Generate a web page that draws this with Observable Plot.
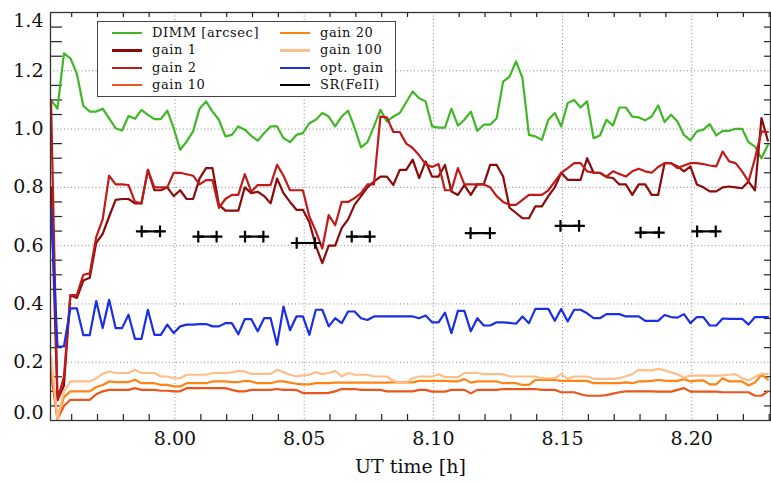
<!DOCTYPE html>
<html><head><meta charset="utf-8">
<script src="https://cdn.jsdelivr.net/npm/d3@7"></script>
<script src="https://cdn.jsdelivr.net/npm/@observablehq/plot@0.6"></script>
<style>
body{margin:0;background:#fff}
#wrap{position:relative;width:771px;height:483px}
#wrap svg{font-family:"DejaVu Serif",serif}
g[aria-label="tick-labels"] text{letter-spacing:1px}
g[aria-label="axis-title"] text{letter-spacing:2px}
#legend{position:absolute;left:97px;top:21px;width:299px;height:76px;box-sizing:border-box;border:1.2px solid #444;background:#fff;font-family:"DejaVu Serif",serif;font-size:13px;letter-spacing:0.6px;color:#111}
#legend .it{position:absolute;height:16px;line-height:16px;white-space:nowrap}
#legend .sw{position:absolute;top:7px;height:2.2px}
#legend .tx{position:absolute;top:0}
</style>
</head><body>
<div id="wrap"><div id="chart"></div><div id="legend"></div></div>
<script>
// ---- data ----
const times = [
7.9520,7.9545,7.9570,7.9595,7.9620,7.9645,7.9670,7.9695,7.9720,7.9745,
7.9770,7.9795,7.9820,7.9845,7.9870,7.9895,7.9920,7.9945,7.9970,7.9995,
8.0020,8.0045,8.0070,8.0095,8.0120,8.0145,8.0170,8.0195,8.0220,8.0245,
8.0270,8.0295,8.0320,8.0345,8.0370,8.0395,8.0420,8.0445,8.0470,8.0495,
8.0520,8.0545,8.0570,8.0595,8.0620,8.0645,8.0670,8.0695,8.0720,8.0745,
8.0770,8.0795,8.0820,8.0845,8.0870,8.0895,8.0920,8.0945,8.0970,8.0995,
8.1020,8.1045,8.1070,8.1095,8.1120,8.1145,8.1170,8.1195,8.1220,8.1245,
8.1270,8.1295,8.1320,8.1345,8.1370,8.1395,8.1420,8.1445,8.1470,8.1495,
8.1520,8.1545,8.1570,8.1595,8.1620,8.1645,8.1670,8.1695,8.1720,8.1745,
8.1770,8.1795,8.1820,8.1845,8.1870,8.1895,8.1920,8.1945,8.1970,8.1995,
8.2020,8.2045,8.2070,8.2095,8.2120,8.2145,8.2170,8.2195,8.2220,8.2245,
8.2270,8.2295];

const dimm = [
1.10,1.07,1.26,1.243,1.19,1.08,1.06,1.06,1.07,1.037,
1.003,0.995,1.045,1.035,1.066,1.049,1.034,1.034,1.063,1.003,
0.929,0.957,0.992,1.07,1.095,1.06,1.032,0.975,0.98,1.009,
0.998,0.977,0.96,0.986,1.009,1.009,0.969,0.955,0.98,0.986,
1.02,1.032,1.055,1.043,1.009,1.043,1.063,1.005,0.937,0.955,
1.009,1.066,1.026,1.043,1.055,1.092,1.129,1.106,1.095,1.009,
1.005,1.005,1.07,1.012,1.032,1.06,0.994,1.015,1.015,1.037,
1.163,1.18,1.232,1.175,0.98,0.975,0.963,1.032,1.055,1.009,
1.089,1.10,1.074,1.095,0.969,0.978,1.032,1.012,1.074,1.074,
1.043,1.04,1.03,1.043,1.081,1.024,1.049,1.026,0.98,0.961,
0.992,0.998,1.017,0.978,0.994,0.994,1.001,1.001,0.955,0.94,
0.90,0.946];

const gain1 = [
0.80,0.07,0.12,0.43,0.42,0.48,0.49,0.61,0.64,0.70,
0.757,0.76,0.76,0.745,0.745,0.86,0.79,0.79,0.80,0.77,
0.79,0.76,0.76,0.83,0.866,0.866,0.74,0.72,0.72,0.72,
0.80,0.78,0.785,0.77,0.745,0.83,0.78,0.75,0.723,0.723,
0.68,0.60,0.54,0.60,0.60,0.66,0.69,0.74,0.77,0.80,
0.82,0.837,0.837,0.808,0.86,0.86,0.895,0.832,0.889,0.837,
0.837,0.877,0.786,0.774,0.808,0.774,0.81,0.81,0.877,0.877,
0.837,0.73,0.712,0.694,0.694,0.735,0.735,0.77,0.80,0.85,
0.826,0.826,0.826,0.90,0.85,0.85,0.835,0.832,0.81,0.81,
0.774,0.81,0.81,0.774,0.774,0.883,0.883,0.872,0.855,0.872,
0.81,0.80,0.786,0.786,0.80,0.803,0.80,0.797,0.82,0.79,
1.038,0.96];

const gain2 = [
1.10,0.07,0.15,0.43,0.43,0.50,0.505,0.63,0.69,0.84,
0.81,0.81,0.808,0.75,0.745,0.86,0.80,0.80,0.80,0.85,
0.85,0.845,0.84,0.81,0.825,0.825,0.73,0.76,0.774,0.774,
0.845,0.785,0.808,0.808,0.808,0.877,0.84,0.79,0.79,0.79,
0.70,0.65,0.59,0.705,0.67,0.75,0.75,0.763,0.78,0.81,
0.81,1.043,1.04,0.99,0.99,0.95,0.935,0.91,0.88,0.87,
0.88,0.79,0.79,0.866,0.81,0.81,0.81,0.81,0.80,0.77,
0.75,0.74,0.74,0.757,0.774,0.774,0.774,0.79,0.82,0.85,
0.866,0.883,0.883,0.855,0.85,0.85,0.837,0.855,0.846,0.837,
0.855,0.864,0.855,0.85,0.87,0.883,0.883,0.866,0.875,0.883,
0.883,0.88,0.875,0.872,0.923,0.889,0.883,0.855,0.82,0.90,
0.992,0.99];

const gain10 = [
0.16,0.005,0.05,0.071,0.071,0.071,0.071,0.09,0.10,0.105,
0.105,0.105,0.105,0.111,0.105,0.105,0.105,0.102,0.102,0.10,
0.10,0.111,0.111,0.111,0.111,0.111,0.111,0.111,0.105,0.10,
0.10,0.105,0.105,0.105,0.105,0.108,0.105,0.105,0.105,0.094,
0.094,0.094,0.094,0.095,0.10,0.108,0.108,0.108,0.105,0.105,
0.105,0.105,0.10,0.10,0.10,0.10,0.10,0.105,0.105,0.099,
0.099,0.099,0.105,0.105,0.105,0.093,0.105,0.105,0.105,0.105,
0.108,0.108,0.108,0.108,0.108,0.108,0.105,0.105,0.105,0.097,
0.097,0.097,0.09,0.085,0.085,0.085,0.087,0.092,0.097,0.10,
0.10,0.10,0.10,0.10,0.099,0.099,0.099,0.105,0.111,0.099,
0.099,0.099,0.099,0.099,0.097,0.097,0.097,0.097,0.097,0.085,
0.085,0.10];

const gain20 = [
0.20,0.005,0.08,0.10,0.10,0.10,0.10,0.115,0.122,0.134,
0.132,0.132,0.132,0.14,0.128,0.128,0.128,0.122,0.122,0.117,
0.117,0.128,0.128,0.128,0.128,0.134,0.134,0.134,0.132,0.132,
0.136,0.134,0.128,0.128,0.128,0.134,0.134,0.13,0.126,0.124,
0.124,0.128,0.128,0.128,0.13,0.13,0.13,0.13,0.13,0.13,
0.13,0.13,0.13,0.131,0.131,0.131,0.131,0.136,0.136,0.136,
0.136,0.136,0.134,0.134,0.142,0.13,0.134,0.134,0.134,0.134,
0.128,0.128,0.128,0.122,0.122,0.139,0.139,0.139,0.139,0.136,
0.136,0.136,0.136,0.136,0.128,0.128,0.128,0.128,0.128,0.131,
0.128,0.134,0.134,0.136,0.139,0.137,0.136,0.136,0.142,0.134,
0.137,0.138,0.124,0.124,0.145,0.134,0.134,0.134,0.12,0.13,
0.157,0.14];

const gain100 = [
0.22,0.005,0.10,0.134,0.134,0.134,0.134,0.145,0.16,0.168,
0.163,0.163,0.163,0.174,0.163,0.163,0.163,0.151,0.151,0.145,
0.145,0.157,0.157,0.157,0.157,0.163,0.163,0.163,0.165,0.17,
0.168,0.16,0.16,0.16,0.16,0.174,0.166,0.157,0.151,0.155,
0.157,0.166,0.159,0.163,0.17,0.151,0.163,0.157,0.157,0.157,
0.151,0.151,0.151,0.136,0.13,0.13,0.145,0.151,0.151,0.151,
0.159,0.149,0.149,0.149,0.163,0.163,0.163,0.159,0.159,0.159,
0.159,0.151,0.151,0.151,0.151,0.151,0.145,0.145,0.145,0.159,
0.143,0.151,0.151,0.151,0.143,0.143,0.143,0.143,0.145,0.152,
0.159,0.174,0.172,0.172,0.177,0.172,0.165,0.159,0.147,0.154,
0.154,0.154,0.154,0.154,0.155,0.157,0.159,0.145,0.137,0.15,
0.16,0.16];

const optGain = [
0.73,0.254,0.254,0.385,0.385,0.293,0.293,0.41,0.317,0.414,
0.317,0.317,0.363,0.28,0.28,0.38,0.294,0.294,0.329,0.30,
0.323,0.329,0.329,0.331,0.331,0.323,0.323,0.334,0.334,0.296,
0.348,0.348,0.306,0.351,0.351,0.26,0.391,0.31,0.357,0.357,
0.294,0.38,0.38,0.323,0.351,0.334,0.374,0.374,0.351,0.345,
0.357,0.357,0.357,0.357,0.357,0.357,0.357,0.351,0.36,0.337,
0.337,0.37,0.30,0.376,0.376,0.306,0.351,0.326,0.326,0.337,
0.337,0.335,0.332,0.357,0.334,0.383,0.383,0.383,0.342,0.383,
0.34,0.38,0.38,0.368,0.351,0.351,0.365,0.365,0.365,0.357,
0.357,0.357,0.342,0.342,0.342,0.362,0.355,0.353,0.365,0.334,
0.355,0.355,0.326,0.326,0.35,0.349,0.349,0.349,0.329,0.355,
0.355,0.355];

const srStart = [7.9871,8.0090,8.0271,8.0471,8.0684,8.1144,8.1492,8.1802,8.2021];
const srEnd   = [7.9942,8.0161,8.0342,8.0542,8.0754,8.1219,8.1564,8.1873,8.2093];
const srValue = [0.649,0.631,0.631,0.609,0.631,0.643,0.668,0.645,0.649];

const seriesNames = ["DIMM [arcsec]","gain 1","gain 2","gain 10","gain 20","gain 100","opt. gain","SR(FeII)"];
const seriesColors = ["#3fb727","#8c0a0a","#c01a1a","#ec551c","#ff8414","#ffbd88","#1a2ee6","#000000"];

const xMajorTicks = [8.00,8.05,8.10,8.15,8.20];
const xTickLabels = ["8.00","8.05","8.10","8.15","8.20"];
const xMinorTicks = [7.96,7.97,7.98,7.99,8.01,8.02,8.03,8.04,8.06,8.07,8.08,8.09,8.11,8.12,8.13,8.14,8.16,8.17,8.18,8.19,8.21,8.22,8.23];
const yMajorTicks = [0.0,0.2,0.4,0.6,0.8,1.0,1.2,1.4];
const yTickLabels = ["0.0","0.2","0.4","0.6","0.8","1.0","1.2","1.4"];
const yMinorTicks = [0.05,0.10,0.15,0.25,0.30,0.35,0.45,0.50,0.55,0.65,0.70,0.75,0.85,0.90,0.95,1.05,1.10,1.15,1.25,1.30,1.35];
const xTitle = "UT time [h]";

// ---- layout ----
const W = 771, H = 483, mL = 50, mR = 1, mT = 12, mB = 63;
const plotH = H - mT - mB, plotW = W - mL - mR;

const seriesValues = [dimm, gain1, gain2, gain10, gain20, gain100, optGain];
const lineMarks = seriesValues.map((vals, k) =>
  Plot.line(times.map((t, i) => ({t, v: vals[i]})), {x: "t", y: "v", stroke: seriesColors[k], strokeWidth: 2.2, strokeLinejoin: "round"})
);

const srSegs = srStart.map((s, i) => ({t1: s, t2: srEnd[i], v: srValue[i]}));
const srPts = srSegs.flatMap(d => [{t: d.t1, v: d.v}, {t: d.t2, v: d.v}]);
const plusSymbol = {draw(ctx, size) { const r = Math.sqrt(size / Math.PI); ctx.moveTo(-r, 0); ctx.lineTo(r, 0); ctx.moveTo(0, -r); ctx.lineTo(0, r); }};

const xLab = xMajorTicks.map((v, i) => ({v, s: xTickLabels[i]}));
const yLabMid = yMajorTicks.map((v, i) => ({v, s: yTickLabels[i]})).filter(d => d.v > 0 && d.v < 1.4);
const yLabTop = yMajorTicks.map((v, i) => ({v, s: yTickLabels[i]})).filter(d => d.v >= 1.4);
const yLabBot = yMajorTicks.map((v, i) => ({v, s: yTickLabels[i]})).filter(d => d.v <= 0);
const grey = "#8a8a8a";

const chart = Plot.plot({
  width: W, height: H, marginLeft: mL, marginRight: mR, marginTop: mT, marginBottom: mB,
  style: {background: "white", fontFamily: "DejaVu Serif"},
  x: {domain: [7.9518, 8.2305], axis: null},
  y: {domain: [0, 1.4], axis: null},
  marks: [
    Plot.ruleX(xMajorTicks, {x: d => d, stroke: grey, strokeWidth: 1, strokeDasharray: "1,2.5"}),
    Plot.ruleY(yMajorTicks.filter(d => d > 0 && d < 1.4), {y: d => d, stroke: grey, strokeWidth: 1, strokeDasharray: "1,2.5"}),
    Plot.ruleX(xMinorTicks, {x: d => d, insetTop: plotH - 6, stroke: "#222", strokeWidth: 1.2}),
    Plot.ruleX(xMinorTicks, {x: d => d, insetBottom: plotH - 5, stroke: "#222", strokeWidth: 1.2}),
    Plot.ruleY(yMinorTicks, {y: d => d, insetRight: plotW - 12, stroke: "#222", strokeWidth: 1.2}),
    Plot.ruleY(yMinorTicks, {y: d => d, insetLeft: plotW - 6, stroke: "#222", strokeWidth: 1.2}),
    ...lineMarks,
    Plot.ruleY(srSegs, {x1: "t1", x2: "t2", y: "v", stroke: "black", strokeWidth: 2.2}),
    Plot.dot(srPts, {x: "t", y: "v", symbol: plusSymbol, r: 5.8, stroke: "black", strokeWidth: 2.2, fill: "none"}),
    Plot.frame({stroke: "#333", strokeWidth: 1.3}),
    Plot.text(xLab, {x: "v", text: "s", frameAnchor: "bottom", dy: 24, fontSize: 19, fill: "#111", ariaLabel: "tick-labels"}),
    Plot.text(yLabMid, {y: "v", text: "s", frameAnchor: "left", textAnchor: "end", dx: -7, fontSize: 19, fill: "#111", ariaLabel: "tick-labels"}),
    Plot.text(yLabTop, {y: "v", text: "s", frameAnchor: "left", textAnchor: "end", dx: -7, dy: 8, fontSize: 19, fill: "#111", ariaLabel: "tick-labels"}),
    Plot.text(yLabBot, {y: "v", text: "s", frameAnchor: "left", textAnchor: "end", dx: -7, dy: -8, fontSize: 19, fill: "#111", ariaLabel: "tick-labels"}),
    Plot.text([xTitle], {text: d => d, frameAnchor: "bottom", dy: 52, fontSize: 19, fill: "#111", ariaLabel: "axis-title"})
  ]
});
document.getElementById("chart").appendChild(chart);

// ---- legend (overlay inside the plot, as in the reference) ----
const lg = document.getElementById("legend");
seriesNames.forEach((name, k) => {
  const col = k < 4 ? 0 : 1, row = k % 4;
  const it = document.createElement("div");
  it.className = "it";
  it.style.left = (col === 0 ? 14 : 182) + "px";
  it.style.top = (3 + row * 17.4) + "px";
  const sw = document.createElement("div");
  sw.className = "sw";
  sw.style.left = "0px"; sw.style.width = "30px"; sw.style.background = seriesColors[k];
  const tx = document.createElement("div");
  tx.className = "tx"; tx.style.left = "40px"; tx.textContent = name;
  it.appendChild(sw); it.appendChild(tx); lg.appendChild(it);
});
</script>
</body></html>
